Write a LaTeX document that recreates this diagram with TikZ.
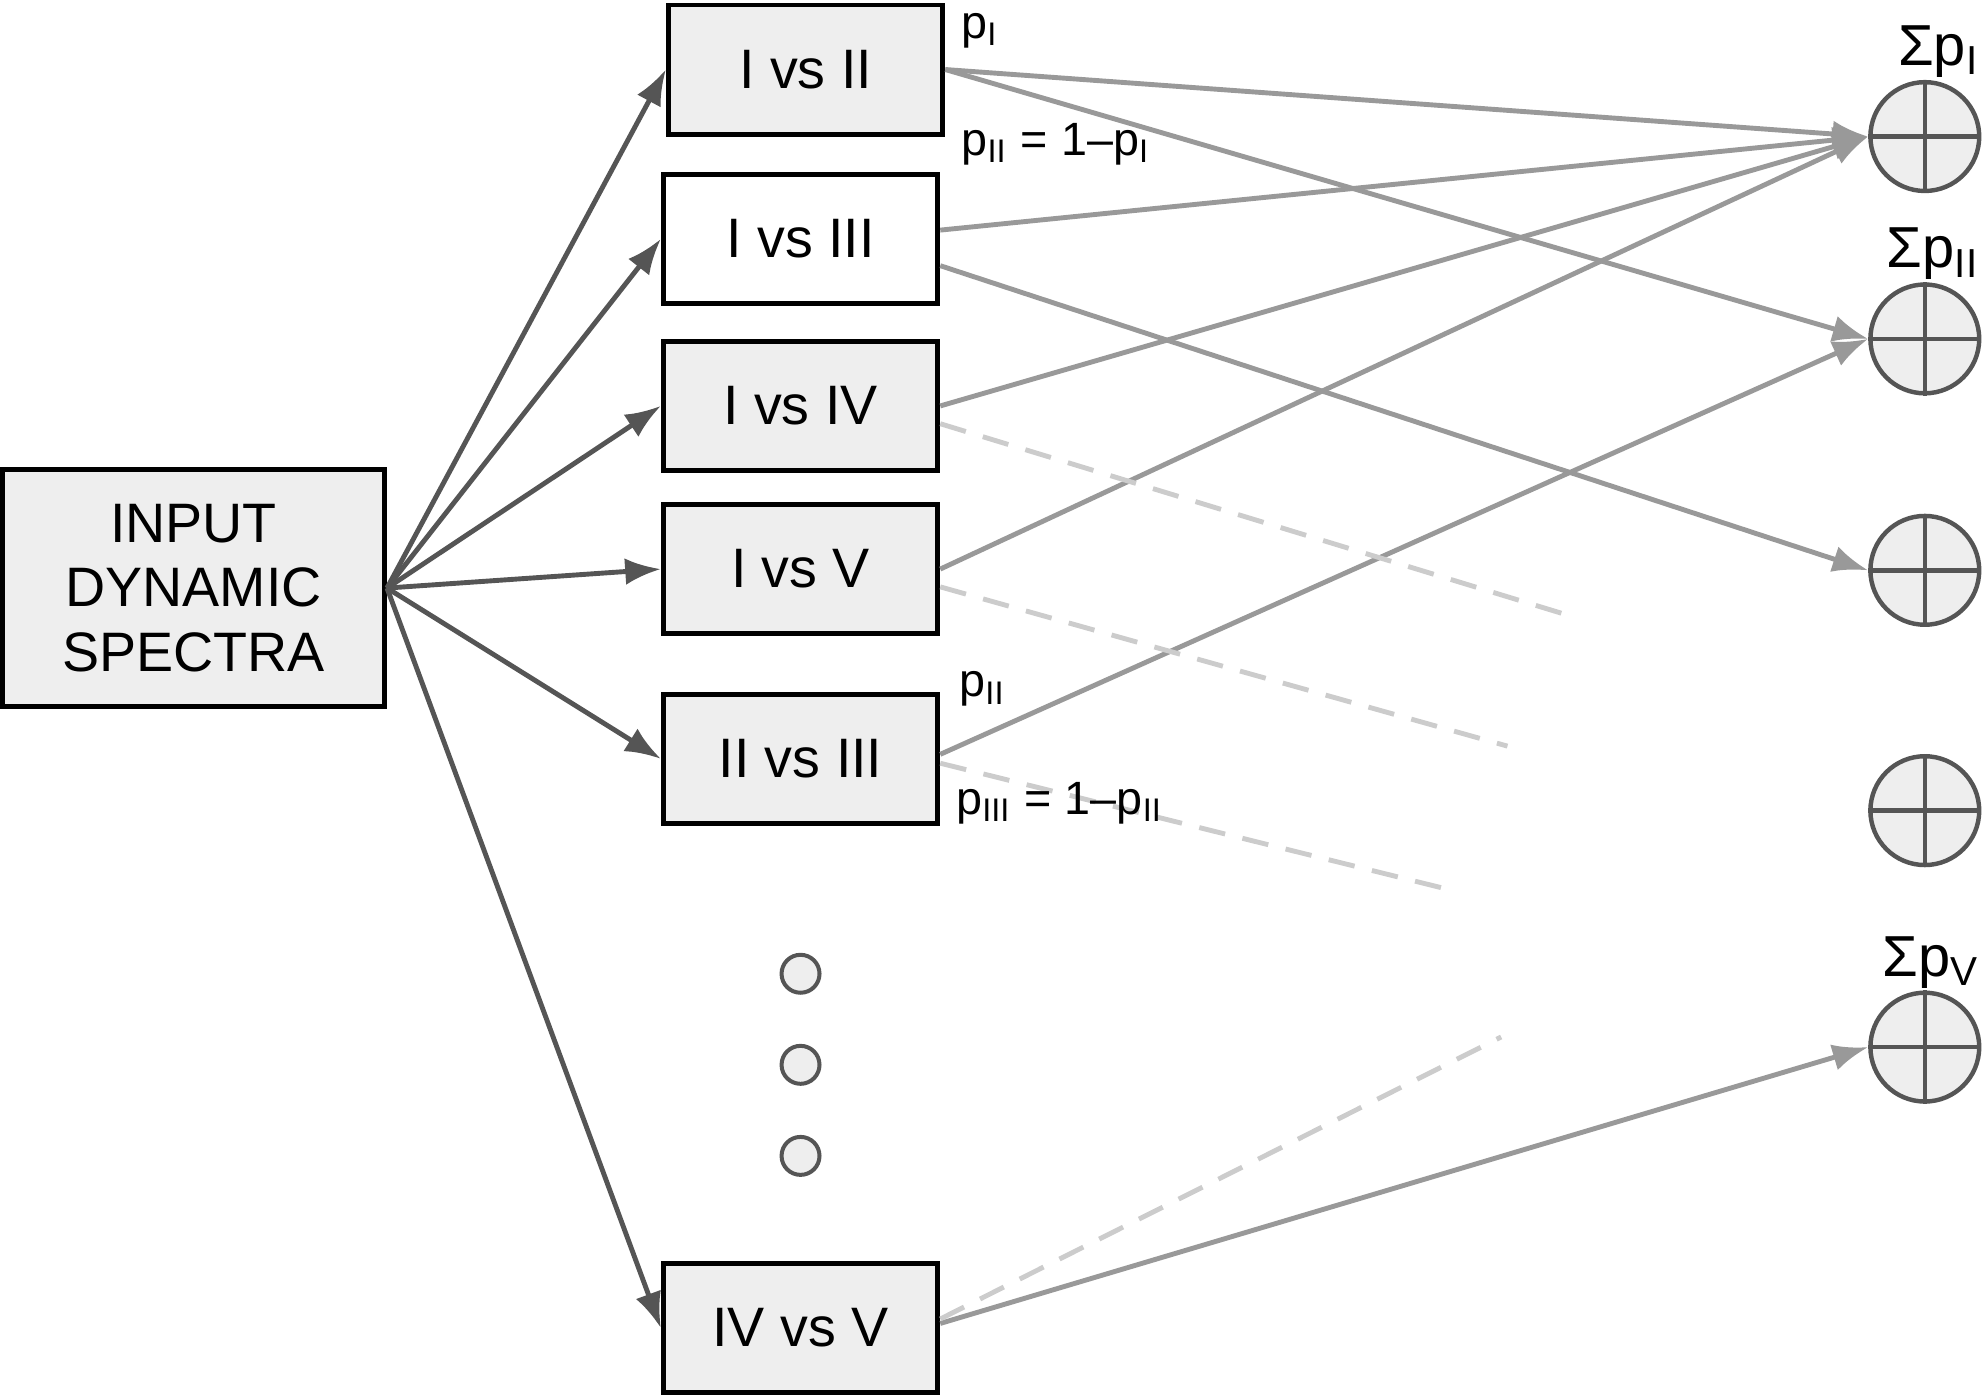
\documentclass[tikz,border=0pt]{standalone}
\usepackage{fontspec}
\setmainfont{Liberation Sans}
\usetikzlibrary{arrows.meta,positioning}
\definecolor{boxfill}{HTML}{EEEEEE}
\definecolor{darkline}{HTML}{555555}
\definecolor{gline}{HTML}{999999}
\definecolor{dline}{HTML}{CCCCCC}
\tikzset{
  box/.style={draw=black, fill=boxfill, line width=1.1pt, minimum width=2.17cm, minimum height=1.02cm, inner sep=0pt, font=\fontsize{12.5}{15}\selectfont},
  sum/.style={circle, draw=darkline, fill=boxfill, line width=1pt, minimum size=0.86cm, inner sep=0pt},
  dot/.style={circle, draw=darkline, fill=boxfill, line width=0.9pt, minimum size=0.3cm, inner sep=0pt},
  feed/.style={draw=darkline, line width=1.1pt, -{Latex[length=8pt,width=6pt]}},
  vote/.style={draw=gline, line width=1.1pt, -{Latex[length=8pt,width=6pt]}},
  skip/.style={draw=dline, line width=1.1pt, dashed, dash pattern=on 6pt off 4pt},
  lab/.style={font=\fontsize{10.5}{12}\selectfont, inner sep=0pt},
  sumlab/.style={font=\fontsize{13}{15}\selectfont, inner sep=0pt}
}
\begin{document}
\begin{tikzpicture}[x=0.01cm,y=-0.01cm]
\useasboundingbox (0,0) rectangle (1568,1104);
% Eingang
\node[box, minimum width=3.02cm, minimum height=1.87cm, align=center, font=\fontsize{12.5}{14.5}\selectfont] (input) at (153,465) {INPUT\\DYNAMIC\\SPECTRA};
% Vergleiche
\node[box] (c12) at (637,55) {I vs II};
\node[box, fill=white] (c13) at (633,189) {I vs III};
\node[box] (c14) at (633,321) {I vs IV};
\node[box] (c15) at (633,450) {I vs V};
\node[box] (c23) at (633,600) {II vs III};
\node[box] (c45) at (633,1050) {IV vs V};
% Punkte
\node[dot] (d1) at (633,770) {};
\node[dot] (d2) at (633,842) {};
\node[dot] (d3) at (633,914) {};
% Summen
\foreach \n/\y in {1/108,2/268,3/451,4/641,5/828}{
  \node[sum] (s\n) at (1522,\y) {};
  \draw[darkline, line width=1pt] (s\n.north) -- (s\n.south) (s\n.west) -- (s\n.east);
}
\node[sumlab, anchor=south east] (l1) at (1566,62) {Σp\textsubscript{I}};
\node[sumlab, anchor=south east] (l2) at (1566,222) {Σp\textsubscript{II}};
\node[sumlab, anchor=south east] (l5) at (1566,782) {Σp\textsubscript{V}};
% Pfeile vom Eingang
\foreach \b in {c12,c13,c14,c15,c23,c45}
  \draw[feed] (input.east) -- (\b.west);
% Stimmen
\draw[vote] (c12.east) -- (s1.west);
\draw[vote] (c12.east) -- (s2.west);
\draw[vote] ([yshift=2pt]c13.east) -- (s1.west);
\draw[vote] ([yshift=-6pt]c13.east) -- (s3.west);
\draw[vote] (c14.east) -- (s1.west);
\draw[vote] (c15.east) -- (s1.west);
\draw[vote] ([yshift=1pt]c23.east) -- (s2.west);
\draw[vote] ([yshift=1pt]c45.east) -- (s5.west);
% abgebrochene Linien
\coordinate (e14) at (1235,485);
\coordinate (e15) at (1192,590);
\coordinate (e23) at (1152,705);
\coordinate (e45) at (1187,820);
\draw[skip] ([yshift=-4pt]c14.east) -- (e14);
\draw[skip] ([yshift=-4pt]c15.east) -- (e15);
\draw[skip] ([yshift=-1pt]c23.east) -- (e23);
\draw[skip] ([yshift=2pt]c45.east) -- (e45);
% Beschriftungen
\node[lab] (p1) at (775,24) {p\textsubscript{I}};
\node[lab] (p2) at (835,114) {p\textsubscript{II} = 1--p\textsubscript{I}};
\node[lab] (p3) at (777,545) {p\textsubscript{II}};
\node[lab] (p4) at (838,635) {p\textsubscript{III} = 1--p\textsubscript{II}};
\end{tikzpicture}
\end{document}
